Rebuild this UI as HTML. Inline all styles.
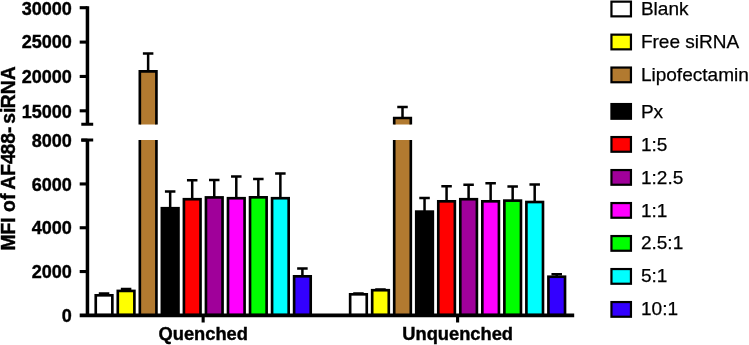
<!DOCTYPE html>
<html><head><meta charset="utf-8"><title>MFI of AF488-siRNA</title>
<style>
html,body{margin:0;padding:0;background:#fff;}
body{width:749px;height:345px;overflow:hidden;}
svg{display:block;}
text{font-family:"Liberation Sans",Arial,Helvetica,sans-serif;fill:#000;}
.b{font-weight:bold;font-size:18.05px;stroke:#000;stroke-width:.4px;}
.r{font-size:19.05px;stroke:#000;stroke-width:.25px;}
.yl{font-size:19.35px;}
.xl{font-size:18.3px;}
</style></head><body>
<svg width="749" height="345" viewBox="0 0 749 345">
<rect width="749" height="345" fill="#fff"/>
<path d="M104.05 295.32V293.50M98.80 293.50H109.30" stroke="#000" stroke-width="2.5" fill="none"/>
<rect x="95.75" y="295.32" width="16.60" height="19.88" fill="#ffffff" stroke="#000" stroke-width="2.65"/>
<path d="M126.09 290.93V288.95M120.84 288.95H131.34" stroke="#000" stroke-width="2.5" fill="none"/>
<rect x="117.79" y="290.93" width="16.60" height="24.27" fill="#ffff00" stroke="#000" stroke-width="2.65"/>
<path d="M148.13 71.33V53.50M142.88 53.50H153.38" stroke="#000" stroke-width="2.5" fill="none"/>
<rect x="139.83" y="71.33" width="16.60" height="53.17" fill="#b27a30"/>
<rect x="139.83" y="140" width="16.60" height="175.20" fill="#b27a30"/>
<path d="M139.83 124.5V71.33H156.43V124.5M139.83 140V315.2M156.43 140V315.2" stroke="#000" stroke-width="2.65" fill="none" stroke-linejoin="miter"/>
<path d="M170.17 208.22V191.40M164.92 191.40H175.42" stroke="#000" stroke-width="2.5" fill="none"/>
<rect x="161.87" y="208.22" width="16.60" height="106.97" fill="#000000" stroke="#000" stroke-width="2.65"/>
<path d="M192.21 199.22V180.20M186.96 180.20H197.46" stroke="#000" stroke-width="2.5" fill="none"/>
<rect x="183.91" y="199.22" width="16.60" height="115.97" fill="#ff0000" stroke="#000" stroke-width="2.65"/>
<path d="M214.25 197.42V180.00M209.00 180.00H219.50" stroke="#000" stroke-width="2.5" fill="none"/>
<rect x="205.95" y="197.42" width="16.60" height="117.78" fill="#a0009a" stroke="#000" stroke-width="2.65"/>
<path d="M236.29 198.22V176.60M231.04 176.60H241.54" stroke="#000" stroke-width="2.5" fill="none"/>
<rect x="227.99" y="198.22" width="16.60" height="116.97" fill="#ff00ff" stroke="#000" stroke-width="2.65"/>
<path d="M258.33 197.32V179.10M253.08 179.10H263.58" stroke="#000" stroke-width="2.5" fill="none"/>
<rect x="250.03" y="197.32" width="16.60" height="117.88" fill="#00ff00" stroke="#000" stroke-width="2.65"/>
<path d="M280.37 198.22V173.60M275.12 173.60H285.62" stroke="#000" stroke-width="2.5" fill="none"/>
<rect x="272.07" y="198.22" width="16.60" height="116.97" fill="#00ffff" stroke="#000" stroke-width="2.65"/>
<path d="M302.41 276.32V268.50M297.16 268.50H307.66" stroke="#000" stroke-width="2.5" fill="none"/>
<rect x="294.11" y="276.32" width="16.60" height="38.88" fill="#3300ff" stroke="#000" stroke-width="2.65"/>
<path d="M358.45 294.32V293.40M353.20 293.40H363.70" stroke="#000" stroke-width="2.5" fill="none"/>
<rect x="350.15" y="294.32" width="16.60" height="20.88" fill="#ffffff" stroke="#000" stroke-width="2.65"/>
<path d="M380.48 290.22V289.45M375.23 289.45H385.73" stroke="#000" stroke-width="2.5" fill="none"/>
<rect x="372.18" y="290.22" width="16.60" height="24.98" fill="#ffff00" stroke="#000" stroke-width="2.65"/>
<path d="M402.51 118.03V107.10M397.26 107.10H407.76" stroke="#000" stroke-width="2.5" fill="none"/>
<rect x="394.21" y="118.03" width="16.60" height="6.47" fill="#b27a30"/>
<rect x="394.21" y="140" width="16.60" height="175.20" fill="#b27a30"/>
<path d="M394.21 124.5V118.03H410.81V124.5M394.21 140V315.2M410.81 140V315.2" stroke="#000" stroke-width="2.65" fill="none" stroke-linejoin="miter"/>
<path d="M424.54 211.62V198.00M419.29 198.00H429.79" stroke="#000" stroke-width="2.5" fill="none"/>
<rect x="416.24" y="211.62" width="16.60" height="103.57" fill="#000000" stroke="#000" stroke-width="2.65"/>
<path d="M446.57 201.32V186.20M441.32 186.20H451.82" stroke="#000" stroke-width="2.5" fill="none"/>
<rect x="438.27" y="201.32" width="16.60" height="113.88" fill="#ff0000" stroke="#000" stroke-width="2.65"/>
<path d="M468.60 199.22V184.80M463.35 184.80H473.85" stroke="#000" stroke-width="2.5" fill="none"/>
<rect x="460.30" y="199.22" width="16.60" height="115.97" fill="#a0009a" stroke="#000" stroke-width="2.65"/>
<path d="M490.63 201.32V183.20M485.38 183.20H495.88" stroke="#000" stroke-width="2.5" fill="none"/>
<rect x="482.33" y="201.32" width="16.60" height="113.88" fill="#ff00ff" stroke="#000" stroke-width="2.65"/>
<path d="M512.66 200.62V186.40M507.41 186.40H517.91" stroke="#000" stroke-width="2.5" fill="none"/>
<rect x="504.36" y="200.62" width="16.60" height="114.57" fill="#00ff00" stroke="#000" stroke-width="2.65"/>
<path d="M534.69 202.02V184.40M529.44 184.40H539.94" stroke="#000" stroke-width="2.5" fill="none"/>
<rect x="526.39" y="202.02" width="16.60" height="113.18" fill="#00ffff" stroke="#000" stroke-width="2.65"/>
<path d="M556.72 276.72V274.35M551.47 274.35H561.97" stroke="#000" stroke-width="2.5" fill="none"/>
<rect x="548.42" y="276.72" width="16.60" height="38.48" fill="#3300ff" stroke="#000" stroke-width="2.65"/>
<path d="M87.45 6.15V124.3M87.45 140V315.2" stroke="#000" stroke-width="3.5" fill="none"/>
<path d="M81.3 124.25H93.2M81.3 140.05H93.2" stroke="#000" stroke-width="3" fill="none"/>
<path d="M79.7 315.34999999999997H574.2" stroke="#000" stroke-width="3.6" fill="none"/>
<path d="M79.7 7.7H87.45" stroke="#000" stroke-width="3.1"/>
<text x="71.85" y="14.90" text-anchor="end" class="b">30000</text>
<path d="M79.7 42.1H87.45" stroke="#000" stroke-width="3.1"/>
<text x="71.85" y="48.20" text-anchor="end" class="b">25000</text>
<path d="M79.7 76.45H87.45" stroke="#000" stroke-width="3.1"/>
<text x="71.85" y="83.30" text-anchor="end" class="b">20000</text>
<path d="M79.7 110.80000000000001H87.45" stroke="#000" stroke-width="3.1"/>
<text x="71.85" y="117.85" text-anchor="end" class="b">15000</text>
<path d="M81.3 140.15H87.45" stroke="#000" stroke-width="3.1"/>
<text x="71.85" y="146.70" text-anchor="end" class="b">8000</text>
<path d="M79.7 183.95000000000002H87.45" stroke="#000" stroke-width="3.1"/>
<text x="71.85" y="190.50" text-anchor="end" class="b">6000</text>
<path d="M79.7 227.75H87.45" stroke="#000" stroke-width="3.1"/>
<text x="71.85" y="234.30" text-anchor="end" class="b">4000</text>
<path d="M79.7 271.54999999999995H87.45" stroke="#000" stroke-width="3.1"/>
<text x="71.85" y="278.10" text-anchor="end" class="b">2000</text>
<text x="71.85" y="321.90" text-anchor="end" class="b">0</text>
<path d="M203.15 315.2V322.5" stroke="#000" stroke-width="3.1"/>
<text x="203.25" y="339.6" text-anchor="middle" class="b xl">Quenched</text>
<path d="M457.6 315.2V322.5" stroke="#000" stroke-width="3.1"/>
<text x="457.70000000000005" y="339.6" text-anchor="middle" class="b xl">Unquenched</text>
<text transform="translate(15.3 158.4) rotate(-90)" text-anchor="middle" class="b yl">MFI of <tspan dx="-0.7">AF4</tspan><tspan dx="-1.3">88-</tspan><tspan dx="2.7">si</tspan><tspan dx="-0.5">RNA</tspan></text>
<rect x="611.45" y="1.65" width="19.5" height="14.7" fill="#ffffff" stroke="#000" stroke-width="2.2"/>
<text x="640.9" y="15.10" class="r">Blank</text>
<rect x="611.45" y="34.65" width="19.5" height="14.7" fill="#ffff00" stroke="#000" stroke-width="2.2"/>
<text x="640.9" y="48.10" class="r">Free siRNA</text>
<rect x="611.45" y="67.55" width="19.5" height="14.7" fill="#b27a30" stroke="#000" stroke-width="2.2"/>
<text x="640.9" y="81.00" class="r">Lipofectamine</text>
<rect x="611.45" y="104.05" width="19.5" height="14.7" fill="#000000" stroke="#000" stroke-width="2.2"/>
<text x="640.9" y="117.50" class="r">Px</text>
<rect x="611.45" y="137.05" width="19.5" height="14.7" fill="#ff0000" stroke="#000" stroke-width="2.2"/>
<text x="641.0" y="150.50" class="r">1:5</text>
<rect x="611.45" y="170.05" width="19.5" height="14.7" fill="#a0009a" stroke="#000" stroke-width="2.2"/>
<text x="641.0" y="183.50" class="r">1:2.5</text>
<rect x="611.45" y="203.05" width="19.5" height="14.7" fill="#ff00ff" stroke="#000" stroke-width="2.2"/>
<text x="641.0" y="216.50" class="r">1:1</text>
<rect x="611.45" y="236.05" width="19.5" height="14.7" fill="#00ff00" stroke="#000" stroke-width="2.2"/>
<text x="640.9" y="249.20" class="r">2.5:1</text>
<rect x="611.45" y="269.05" width="19.5" height="14.7" fill="#00ffff" stroke="#000" stroke-width="2.2"/>
<text x="640.9" y="282.20" class="r">5:1</text>
<rect x="611.45" y="302.05" width="19.5" height="14.7" fill="#3300ff" stroke="#000" stroke-width="2.2"/>
<text x="641.0" y="315.20" class="r">10:1</text>
</svg>
</body></html>
